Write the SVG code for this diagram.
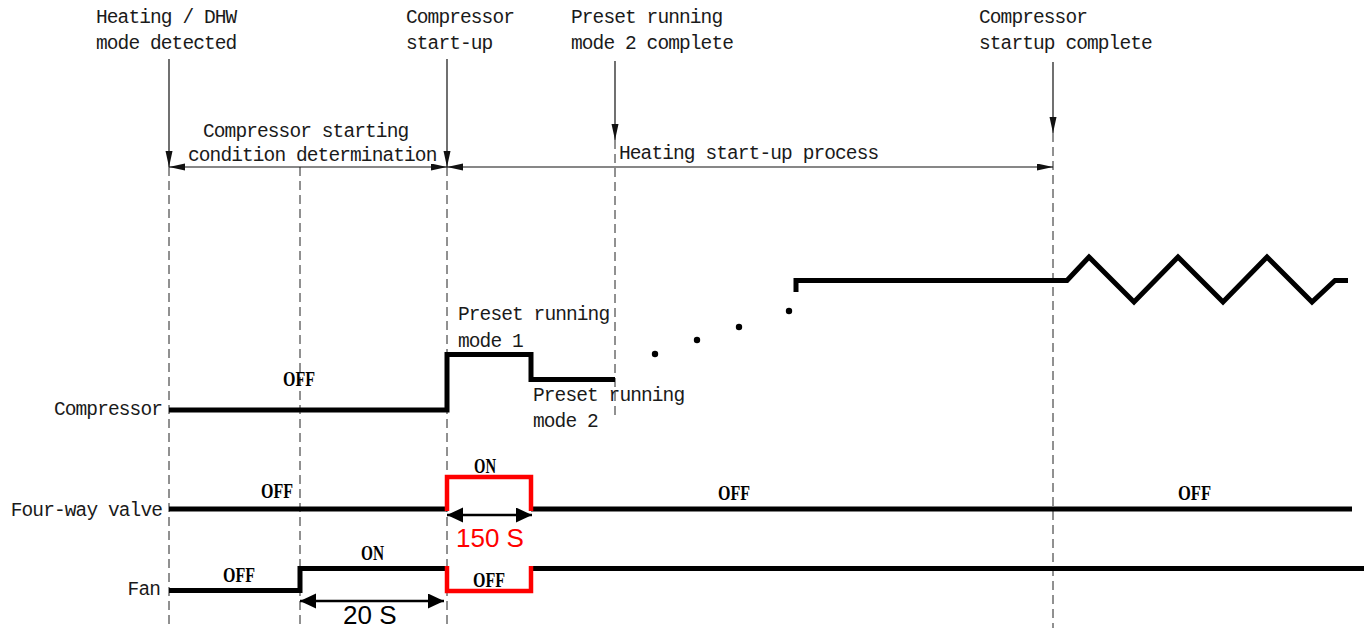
<svg xmlns="http://www.w3.org/2000/svg" width="1371" height="630" viewBox="0 0 1371 630">
  <defs>
    <marker id="tip" markerUnits="userSpaceOnUse" markerWidth="17" markerHeight="8" refX="16" refY="3.5" orient="auto-start-reverse">
      <path d="M0,0 L16,3.5 L0,7 Z" fill="#111"/>
    </marker>
    <marker id="tipBig" markerUnits="userSpaceOnUse" markerWidth="18" markerHeight="16" refX="16" refY="7.5" orient="auto-start-reverse">
      <path d="M0,0 L16,7.5 L0,15 Z" fill="#000"/>
    </marker>
    <style>
      .lbl { font-family: "Liberation Mono", "DejaVu Sans Mono", monospace; font-size: 19.5px; letter-spacing: -0.9px; fill: #1a1a1a; }
      .state { font-family: "Liberation Serif", "Times New Roman", serif; font-weight: bold; font-size: 21px; fill: #000; }
      .dur { font-family: "Liberation Sans", Arial, sans-serif; font-size: 26px; }
      .dash { stroke: #222; stroke-width: 1; stroke-dasharray: 9 5; fill: none; }
      .guide { stroke: #111; stroke-width: 1.2; fill: none; }
      .sig { stroke: #000; stroke-width: 5; fill: none; stroke-linejoin: miter; stroke-linecap: butt; }
      .hot { stroke: #ff0000; stroke-width: 4.5; fill: none; stroke-linejoin: miter; }
      .span { stroke: #000; stroke-width: 2.5; fill: none; }
    </style>
  </defs>

  <!-- event markers along the timeline -->
  <g id="connectors">
    <line class="dash" x1="169" y1="167" x2="169" y2="628"/>
    <line class="dash" x1="300" y1="167" x2="300" y2="628"/>
    <line class="dash" x1="447" y1="167" x2="447" y2="628"/>
    <line class="dash" x1="615" y1="140" x2="615" y2="420"/>
    <line class="dash" x1="1053" y1="133" x2="1053" y2="628"/>

    <line class="guide" x1="169" y1="59" x2="169" y2="167" marker-end="url(#tip)"/>
    <line class="guide" x1="447" y1="59" x2="447" y2="167" marker-end="url(#tip)"/>
    <line class="guide" x1="615" y1="61" x2="615" y2="140" marker-end="url(#tip)"/>
    <line class="guide" x1="1053" y1="62" x2="1053" y2="133" marker-end="url(#tip)"/>

    <!-- phase spans -->
    <line class="guide" x1="169" y1="167" x2="447" y2="167" marker-start="url(#tip)" marker-end="url(#tip)"/>
    <line class="guide" x1="447" y1="167" x2="1053" y2="167" marker-start="url(#tip)" marker-end="url(#tip)"/>

    <!-- duration spans -->
    <line class="span" x1="447" y1="515" x2="532" y2="515" marker-start="url(#tipBig)" marker-end="url(#tipBig)"/>
    <line class="span" x1="300" y1="601" x2="444" y2="601" marker-start="url(#tipBig)" marker-end="url(#tipBig)"/>
  </g>

  <!-- event captions -->
  <g id="event-mode-detected">
    <text class="lbl" x="96" y="23">Heating / DHW</text>
    <text class="lbl" x="96" y="49">mode detected</text>
  </g>
  <g id="event-compressor-startup">
    <text class="lbl" x="406" y="23">Compressor</text>
    <text class="lbl" x="406" y="49">start-up</text>
  </g>
  <g id="event-mode2-complete">
    <text class="lbl" x="571" y="23">Preset running</text>
    <text class="lbl" x="571" y="49">mode 2 complete</text>
  </g>
  <g id="event-startup-complete">
    <text class="lbl" x="979" y="23">Compressor</text>
    <text class="lbl" x="979" y="49">startup complete</text>
  </g>

  <!-- phase captions -->
  <g id="phase-condition">
    <text class="lbl" x="203" y="137">Compressor starting</text>
    <text class="lbl" x="188" y="161">condition determination</text>
  </g>
  <g id="phase-heating">
    <text class="lbl" x="619" y="159">Heating start-up process</text>
  </g>

  <!-- compressor trace -->
  <g id="compressor">
    <text class="lbl" x="162" y="415" text-anchor="end">Compressor</text>
    <text class="state" x="283" y="386" font-size="25" textLength="32" lengthAdjust="spacingAndGlyphs">OFF</text>
    <polyline class="sig" points="169,410 447,410 447,354.5 531,354.5 531,379.5 615,379.5"/>
    <text class="lbl" x="458" y="320">Preset running</text>
    <text class="lbl" x="458" y="347">mode 1</text>
    <text class="lbl" x="533" y="401">Preset running</text>
    <text class="lbl" x="533" y="427">mode 2</text>
    <circle cx="655" cy="354" r="3.2" fill="#000"/>
    <circle cx="697" cy="340" r="3.2" fill="#000"/>
    <circle cx="739" cy="327" r="3.2" fill="#000"/>
    <circle cx="789" cy="311" r="3.2" fill="#000"/>
    <polyline class="sig" points="796,292 796,280.5 1067,280.5 1089,257 1134,302 1178,257 1223,302 1267,257 1312,302 1335,280.5 1348,280.5"/>
  </g>

  <!-- four-way valve trace -->
  <g id="four-way-valve">
    <text class="lbl" x="162" y="516" text-anchor="end">Four-way valve</text>
    <text class="state" x="261" y="498" textLength="32" lengthAdjust="spacingAndGlyphs">OFF</text>
    <text class="state" x="718" y="500" textLength="32" lengthAdjust="spacingAndGlyphs">OFF</text>
    <text class="state" x="1178" y="500" textLength="33" lengthAdjust="spacingAndGlyphs">OFF</text>
    <text class="state" x="474" y="473" textLength="22" lengthAdjust="spacingAndGlyphs">ON</text>
    <line class="sig" x1="169" y1="509" x2="447" y2="509"/>
    <line class="sig" x1="531" y1="509" x2="1352" y2="509"/>
    <polyline class="hot" points="447,511 447,477 531,477 531,511"/>
    <text class="dur" x="456" y="547" fill="#ff0000">150 S</text>
  </g>

  <!-- fan trace -->
  <g id="fan">
    <text class="lbl" x="160" y="595" text-anchor="end">Fan</text>
    <text class="state" x="223" y="582" textLength="32" lengthAdjust="spacingAndGlyphs">OFF</text>
    <text class="state" x="361" y="560" textLength="23" lengthAdjust="spacingAndGlyphs">ON</text>
    <text class="state" x="473" y="587" textLength="32" lengthAdjust="spacingAndGlyphs">OFF</text>
    <polyline class="sig" points="169,590.5 300,590.5 300,568.5 447,568.5"/>
    <line class="sig" x1="531" y1="568.5" x2="1364" y2="568.5"/>
    <polyline class="hot" points="447,566 447,591 531,591 531,566"/>
    <text class="dur" x="343" y="624" fill="#000">20 S</text>
  </g>
</svg>
